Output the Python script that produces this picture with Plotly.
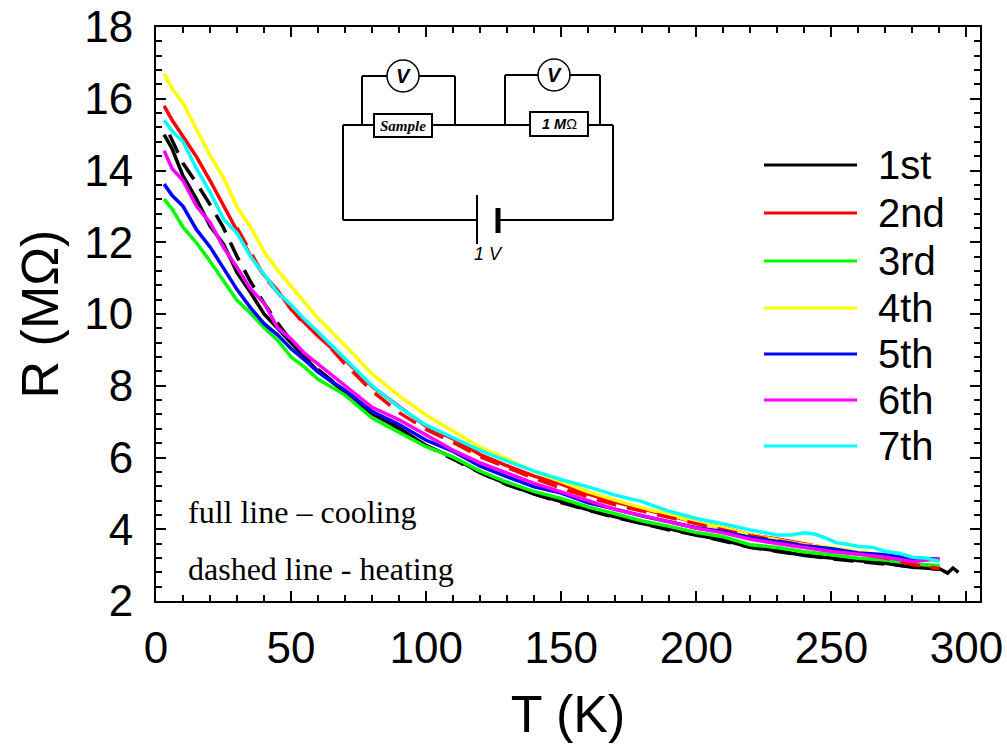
import plotly.graph_objects as go

T_grid = [3,6,10,15,20,25,30,35,40,45,50,55,60,70,80,90,100,110,120,130,140,150,160,170,180,190,200,210,220,230,240,250,260,270,280,290]
T_black = T_grid + [293, 295, 297]
T_black_h = [5,10,15,20,25,30,35,40,45,50,55,60,70,80,90,100,110,120,130,140,150,160,170,180,190,200,210,220,230,240,250,260,270,280,290]
T_red_h = [30,35,40,45,50,55,60,70,80,90,100,110,120,130,140,150,160,170,180,190,200,210,220,230,240,250,260,270,280,290]
T_cyan = [3,6,10,15,20,25,30,35,40,45,50,55,60,70,80,90,100,110,120,130,140,150,160,170,180,190,200,210,220,230,235,240,244,248,252,256,260,265,270,275,280,285,290]

R_1st = [15.0,14.6,13.85,13.2,12.45,11.95,11.15,10.6,10.0,9.6,9.18,8.8,8.4,7.82,7.22,6.82,6.33,6.0,5.58,5.26,4.98,4.77,4.54,4.35,4.16,4.01,3.84,3.7,3.5,3.4,3.27,3.2,3.12,3.05,2.94,2.9,2.78,2.92,2.8]
R_1st_h = [15.0,14.2,13.65,13.05,12.4,11.6,10.9,10.3,9.75,9.25,8.82,8.45,7.85,7.28,6.8,6.33,5.95,5.58,5.24,4.98,4.74,4.53,4.33,4.16,3.98,3.84,3.68,3.5,3.38,3.27,3.18,3.1,3.04,2.96,2.88]
R_2nd = [15.8,15.4,14.95,14.38,13.72,13.02,12.28,11.62,11.08,10.66,10.13,9.77,9.38,8.72,7.98,7.42,6.87,6.52,6.08,5.77,5.48,5.26,4.98,4.76,4.57,4.39,4.19,4.04,3.84,3.73,3.59,3.46,3.34,3.26,3.04,2.95]
R_2nd_h = [12.4,11.7,11.05,10.6,10.15,9.7,9.45,8.6,7.85,7.25,6.78,6.42,6.02,5.72,5.42,5.15,4.9,4.68,4.5,4.32,4.15,3.98,3.82,3.68,3.55,3.42,3.32,3.2,3.02,2.9]
R_3rd = [13.2,12.92,12.42,11.98,11.47,10.93,10.38,10.02,9.62,9.27,8.8,8.52,8.18,7.74,7.1,6.7,6.3,6.01,5.62,5.31,5.05,4.86,4.62,4.43,4.23,4.08,3.91,3.79,3.57,3.49,3.37,3.29,3.19,3.14,3.04,2.98]
R_4th = [16.7,16.28,15.88,15.15,14.42,13.8,12.98,12.42,11.74,11.22,10.78,10.32,9.88,9.12,8.33,7.72,7.18,6.74,6.28,5.96,5.6,5.33,5.04,4.81,4.59,4.41,4.19,4.04,3.84,3.71,3.57,3.49,3.37,3.28,3.16,3.14]
R_5th = [13.62,13.3,13.0,12.35,11.87,11.27,10.68,10.17,9.73,9.42,9.03,8.72,8.38,7.87,7.28,6.92,6.48,6.17,5.76,5.46,5.18,5.01,4.74,4.56,4.37,4.21,4.04,3.94,3.77,3.66,3.54,3.46,3.34,3.29,3.17,3.18]
R_6th = [14.55,14.05,13.72,13.0,12.55,11.85,11.3,10.7,10.3,9.62,9.3,8.9,8.6,8.0,7.4,7.05,6.62,6.2,5.85,5.57,5.28,5.04,4.8,4.55,4.38,4.2,4.03,3.9,3.72,3.6,3.48,3.38,3.3,3.22,3.1,3.18]
R_7th = [15.4,15.1,14.8,14.05,13.4,12.65,12.25,11.6,11.1,10.6,10.25,9.85,9.5,8.75,8.0,7.4,6.9,6.55,6.2,5.9,5.62,5.38,5.18,4.95,4.77,4.5,4.3,4.15,3.98,3.84,3.84,3.9,3.86,3.75,3.62,3.58,3.52,3.5,3.38,3.33,3.22,3.2,3.1]

NAMES = ["1st", "2nd", "3rd", "4th", "5th", "6th", "7th"]
BLACK, RED, GREEN, YELLOW, BLUE, MAGENTA, CYAN = "#000000", "#ff0000", "#00ff00", "#ffff00", "#0000ff", "#ff00ff", "#00ffff"
COLORS = [BLACK, RED, GREEN, YELLOW, BLUE, MAGENTA, CYAN]
DASH = "20px,11px"
FONT = "Liberation Sans, Arial, sans-serif"
SERIF = "Liberation Serif, Times New Roman, serif"

W, H = 1007, 747
L, R, TOP, B = 156, 980, 27, 601

def px(x): return (x - L) / (R - L)
def py(y): return 1 - (y - TOP) / (B - TOP)

fig = go.Figure()
def add(x, y, color, name=None, dash=None):
    fig.add_trace(go.Scatter(x=x, y=y, mode="lines", name=name, showlegend=False,
                             line=dict(color=color, width=3.5, dash=dash or "solid")))
add(T_black, R_1st, BLACK, "1st")
add(T_black_h, R_1st_h, BLACK, "1st heating", DASH)
add(T_grid, R_2nd, RED, "2nd")
add(T_grid, R_3rd, GREEN, "3rd")
add(T_grid, R_4th, YELLOW, "4th")
add(T_red_h, R_2nd_h, RED, "2nd heating", DASH)
add(T_grid, R_5th, BLUE, "5th")
add(T_grid, R_6th, MAGENTA, "6th")
add(T_cyan, R_7th, CYAN, "7th")

shapes = []
def line(x0, y0, x1, y1, w=2, color="black"):
    shapes.append(dict(type="line", xref="paper", yref="paper", x0=px(x0), y0=py(y0), x1=px(x1), y1=py(y1),
                       line=dict(color=color, width=w)))
def rect(x0, y0, x1, y1, fill="white"):
    shapes.append(dict(type="rect", xref="paper", yref="paper", x0=px(x0), y0=py(y0), x1=px(x1), y1=py(y1),
                       line=dict(color="black", width=2), fillcolor=fill))
def circ(cx, cy, r):
    shapes.append(dict(type="circle", xref="paper", yref="paper", x0=px(cx-r), y0=py(cy-r), x1=px(cx+r), y1=py(cy+r),
                       line=dict(color="black", width=1.5), fillcolor="white"))
# circuit
line(343,125,613,125); line(343,125,343,220); line(613,125,613,220)
line(343,220,477,220); line(498,220,613,220)
line(477,195,477,244); line(498,208,498,233,5)
line(362,125,362,76); line(362,76,455,76); line(455,76,455,125)
line(505,125,505,75); line(505,75,600,75); line(600,75,600,125)
rect(374,114,432,137); rect(530,112,588,136)
circ(403,76,16); circ(554,75,16)

def text(x, y, s, size, family=FONT, anchor="center"):
    fig.add_annotation(xref="paper", yref="paper", x=px(x), y=py(y), text=s, showarrow=False,
                       xanchor=anchor, yanchor="middle", font=dict(size=size, family=family, color="black"))
text(403,76,"<b><i>V</i></b>",20)
text(554,75,"<b><i>V</i></b>",20)
text(403,126,"<b><i>Sample</i></b>",15,SERIF)
text(559,124,"<b><i>1 M</i></b>Ω",14.5)
text(488,254,"<i>1 V</i>",18)
text(186,512,"full line – cooling",32,SERIF,"left")
text(186,569,"dashed line - heating",32,SERIF,"left")

# legend
LEG_Y = [165, 213, 261, 308, 354, 400, 446]
for name, color, y in zip(NAMES, COLORS, LEG_Y):
    line(764, y, 857, y, 3, color)
    text(876, y, name, 40, FONT, "left")

axis = dict(showline=True, linecolor="black", linewidth=2, mirror="allticks", ticks="inside",
            showgrid=False, zeroline=False, tickcolor="black", tickwidth=2, ticklen=10,
            ticklabeloverflow="allow",
            tickfont=dict(size=44, family=FONT, color="black"))
fig.update_xaxes(range=[0,305], tick0=0, dtick=50, ticklabelstandoff=7,
                 minor=dict(dtick=10, ticks="inside", ticklen=6, tickcolor="black", tickwidth=2, showgrid=False),
                 title=dict(text="T (K)", font=dict(size=52, family=FONT, color="black"), standoff=25), **axis)
fig.update_yaxes(range=[2,18], tick0=2, dtick=2, ticklabelstandoff=12,
                 minor=dict(dtick=0.4, ticks="inside", ticklen=6, tickcolor="black", tickwidth=2, showgrid=False),
                 title=dict(text="R (MΩ)", font=dict(size=52, family=FONT, color="black"), standoff=9), **axis)
fig.update_layout(width=W, height=H, autosize=False, paper_bgcolor="white", plot_bgcolor="white",
                  margin=dict(l=L, r=W-R, t=TOP, b=H-B, autoexpand=False), shapes=shapes, showlegend=False)
fig.write_html("out.html", config={"displayModeBar": False},
               post_script="document.body.style.margin='0';document.documentElement.style.overflow='hidden';")
